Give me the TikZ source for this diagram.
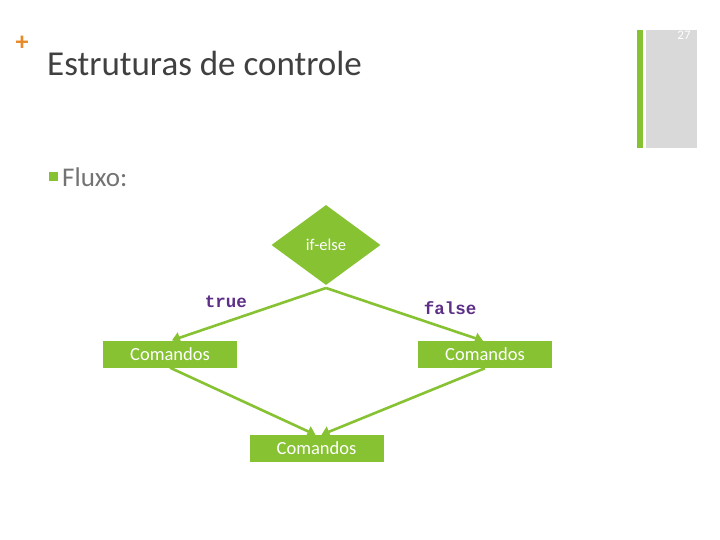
\documentclass[tikz,border=0pt]{standalone}
\usepackage{fontspec}
\setmainfont{Carlito}
\newfontfamily\monof{Liberation Mono}
\usetikzlibrary{shapes.geometric,arrows.meta}
\definecolor{grn}{HTML}{86C232}
\definecolor{ttl}{HTML}{404040}
\definecolor{pur}{HTML}{5E2F86}
\tikzset{
  box/.style={fill=grn,text=white,minimum width=134pt,minimum height=27pt,inner sep=0pt,font=\fontsize{18.5pt}{18.5pt}\selectfont},
  arr/.style={draw=grn,line width=2.6pt,-{Triangle[length=8pt,width=11pt]}},
  lbl/.style={text=pur,font=\monof\bfseries\fontsize{17.5pt}{17.5pt}\selectfont}
}
\begin{document}
\begin{tikzpicture}[x=1pt,y=-1pt]
\useasboundingbox (0,0) rectangle (720,540);
\fill[white] (0,0) rectangle (720,540);
\node[text={rgb,255:red,232;green,138;blue,40},font=\bfseries\fontsize{26pt}{26pt}\selectfont] (plus) at (22,43) {+};
\node[anchor=base west,text=ttl,font=\fontsize{35pt}{35pt}\selectfont,inner sep=0pt] (title) at (47,76) {Estruturas de controle};
\fill[grn] (637,30) rectangle (643,148);
\fill[gray!30] (646,30) rectangle (697,148);
\node[text=white,font=\fontsize{13pt}{13pt}\selectfont] (num) at (684,35) {27};
\fill[grn] (49,172) rectangle (58,181);
\node[anchor=west,text=gray!90!black,font=\fontsize{27pt}{27pt}\selectfont,inner sep=0pt] (fluxo) at (62,177) {Fluxo:};
\node[diamond,fill=grn,text=white,minimum width=109pt,minimum height=80pt,inner sep=0pt,aspect=1.36,font=\fontsize{16.5pt}{16.5pt}\selectfont] (d) at (326,245) {if-else};
\node[box] (l) at (170,354) {Comandos};
\node[box] (r) at (485,354.5) {Comandos};
\node[box] (b) at (316.5,448.5) {Comandos};
\coordinate (ds) at (326,288);
\draw[arr] (ds) -- ([xshift=2pt]l.north);
\draw[arr] (ds) -- ([xshift=-2pt]r.north);
\draw[arr] (l.south) -- ([xshift=-1pt]b.north);
\draw[arr] (r.south) -- ([xshift=5pt]b.north);
\node[lbl] (t) at (226,302) {true};
\node[lbl] (f) at (450,308) {false};
\end{tikzpicture}
\end{document}
